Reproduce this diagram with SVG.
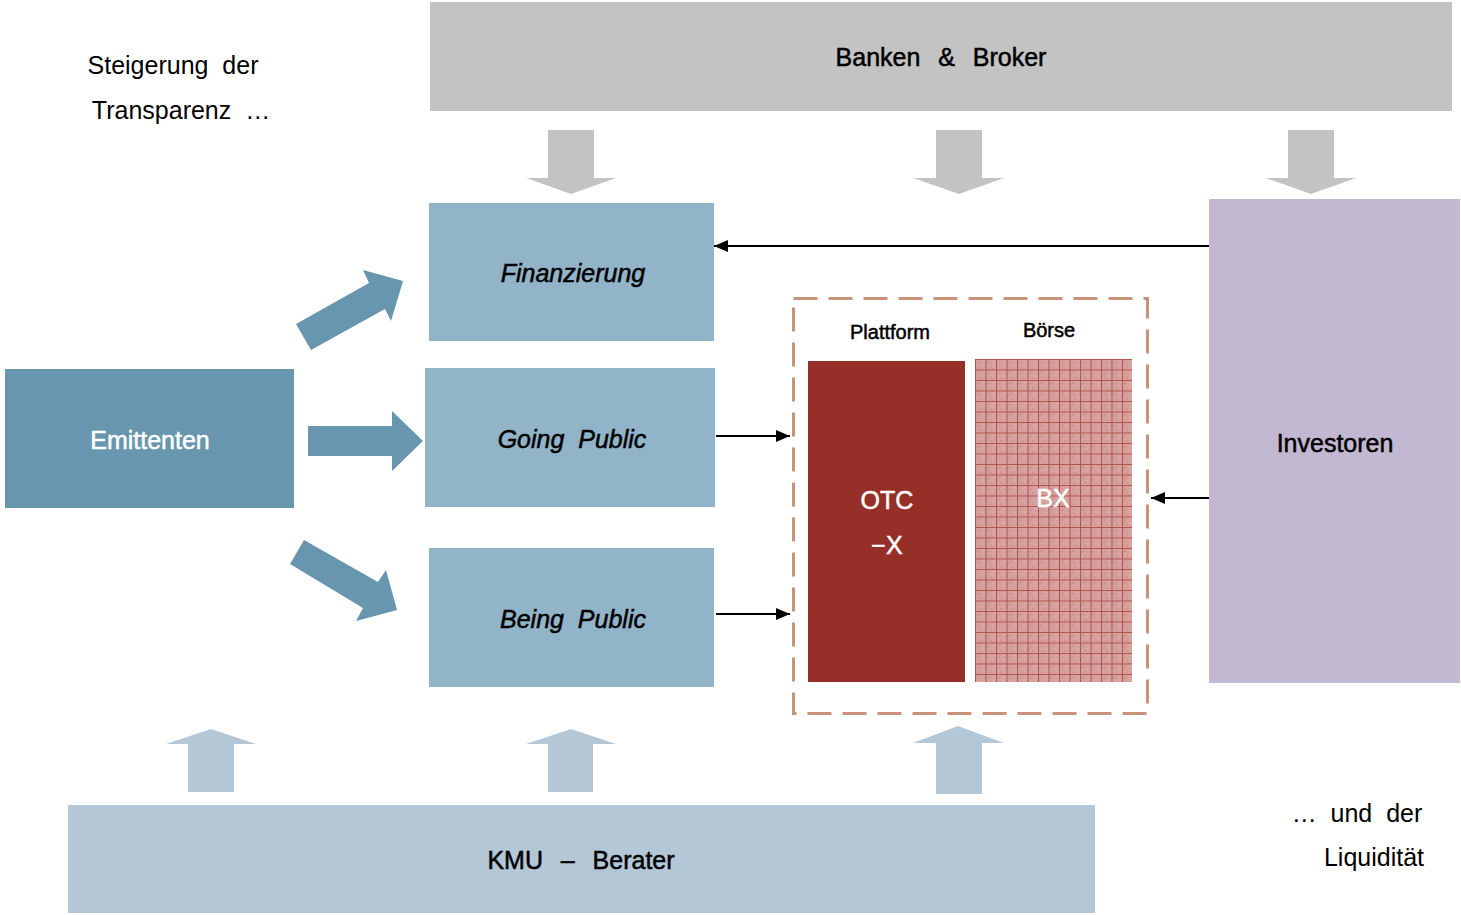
<svg xmlns="http://www.w3.org/2000/svg" width="1461" height="915" viewBox="0 0 1461 915">
<defs>
<style>
text{font-family:"Liberation Sans",Arial,sans-serif;white-space:pre;text-anchor:middle}
.lbl{font-size:25px;fill:#000;stroke:#000;stroke-width:0.5}
.wl{fill:#fff;stroke:#fff;stroke-width:0.5}
.it{font-style:italic}
.side{font-size:25px;fill:#000}
.conn{stroke:#000;stroke-width:2;fill:none}
.gray{fill:#c3c3c3}
.lb{fill:#b4c7d7}
.db{fill:#6796ae}
</style>
<marker id="ah" viewBox="0 0 14 12" refX="14" refY="6" markerWidth="14" markerHeight="12" markerUnits="userSpaceOnUse" orient="auto">
<path d="M0,0 L14,6 L0,12 z" fill="#000"/>
</marker>
<pattern id="grid" width="10.5" height="10.5" patternUnits="userSpaceOnUse" x="975" y="359">
<rect width="10.5" height="10.5" fill="#d5a09d"/>
<rect x="3" y="3" width="1" height="1" fill="#bb6e6a"/>
<rect x="7" y="6" width="1" height="1" fill="#e6c2c0"/>
<rect x="5" y="8" width="1" height="1" fill="#bb6e6a"/>
<rect x="8" y="2" width="1" height="1" fill="#e6c2c0"/>
<path d="M0,0.5 H10.5 M0.5,0 V10.5" stroke="#a9453f" stroke-width="1" stroke-opacity="0.85"/>
</pattern>
</defs>
<rect width="1461" height="915" fill="#fff"/>

<g id="side-texts">
<text class="side" x="173" y="74">Steigerung  der</text>
<text class="side" x="181" y="119">Transparenz  …</text>
<text class="side" x="1357" y="822">…  und  der</text>
<text class="side" x="1374" y="866">Liquidität</text>
</g>

<g id="banken">
<rect class="gray" x="430" y="2" width="1022" height="109"/>
<text class="lbl" x="941" y="66" style="word-spacing:2px">Banken  &amp;  Broker</text>
</g>

<g id="gray-arrows">
<polygon class="gray" points="548,130 594,130 594,178 616,178 571,194 526,178 548,178"/>
<polygon class="gray" points="936,130 982,130 982,178 1004,178 959,194 913,178 936,178"/>
<polygon class="gray" points="1288,130 1334,130 1334,178 1356,178 1311,194 1266,178 1288,178"/>
</g>

<g id="finanzierung">
<rect x="429" y="203" width="285" height="138" fill="#92b4c9"/>
<text class="lbl it" x="573" y="282">Finanzierung</text>
</g>

<g id="going-public">
<rect x="425" y="368" width="290" height="139" fill="#92b4c9"/>
<text class="lbl it" x="572" y="448">Going  Public</text>
</g>

<g id="being-public">
<rect x="429" y="548" width="285" height="139" fill="#92b4c9"/>
<text class="lbl it" x="573" y="628">Being  Public</text>
</g>

<g id="emittenten">
<rect class="db" x="5" y="369" width="289" height="139"/>
<text class="lbl wl" x="150" y="449">Emittenten</text>
</g>

<g id="emittenten-arrows">
<polygon class="db" points="296,324 369,283 363,270 403,281 391,321 385,309 311,350"/>
<polygon class="db" points="308,426 392,426 392,411 423,441 392,471 392,456 308,456"/>
<polygon class="db" points="304,540 378,582 386,570 397,610 356,621 363,608 290,564"/>
</g>

<g id="investoren">
<rect x="1209" y="199" width="251" height="484" fill="#c2b8d1"/>
<text class="lbl" x="1335" y="452">Investoren</text>
</g>

<g id="handelsplatz">
<rect x="793.5" y="298.5" width="354" height="415" fill="none" stroke="#c9927b" stroke-width="3" stroke-dasharray="24 11"/>
<text class="lbl" style="font-size:20px" x="890" y="339">Plattform</text>
<text class="lbl" style="font-size:20px" x="1049" y="337">Börse</text>
</g>

<g id="otc-x">
<rect x="808" y="361" width="157" height="321" fill="#952f27"/>
<text class="lbl wl" style="font-size:25px" x="887" y="509">OTC</text>
<text class="lbl wl" style="font-size:25px" x="887" y="554">−X</text>
</g>

<g id="bx">
<rect x="975" y="359" width="157" height="323" fill="url(#grid)"/>
<text class="lbl wl" style="font-size:25px" x="1053" y="507">BX</text>
</g>

<g id="kmu-berater">
<rect class="lb" x="68" y="805" width="1027" height="108"/>
<text class="lbl" x="581" y="869" style="word-spacing:2px">KMU  –  Berater</text>
</g>

<g id="up-arrows">
<polygon class="lb" points="188,792 234,792 234,744 256,744 211,729 166,744 188,744"/>
<polygon class="lb" points="548,792 593,792 593,744 616,744 571,729 526,744 548,744"/>
<polygon class="lb" points="936,794 982,794 982,743 1004,743 958,726 913,743 936,743"/>
</g>

<g id="connectors">
<line class="conn" x1="1209" y1="246" x2="714" y2="246" marker-end="url(#ah)"/>
<line class="conn" x1="716" y1="436" x2="790" y2="436" marker-end="url(#ah)"/>
<line class="conn" x1="716" y1="614" x2="790" y2="614" marker-end="url(#ah)"/>
<line class="conn" x1="1209" y1="498" x2="1151" y2="498" marker-end="url(#ah)"/>
</g>
</svg>
